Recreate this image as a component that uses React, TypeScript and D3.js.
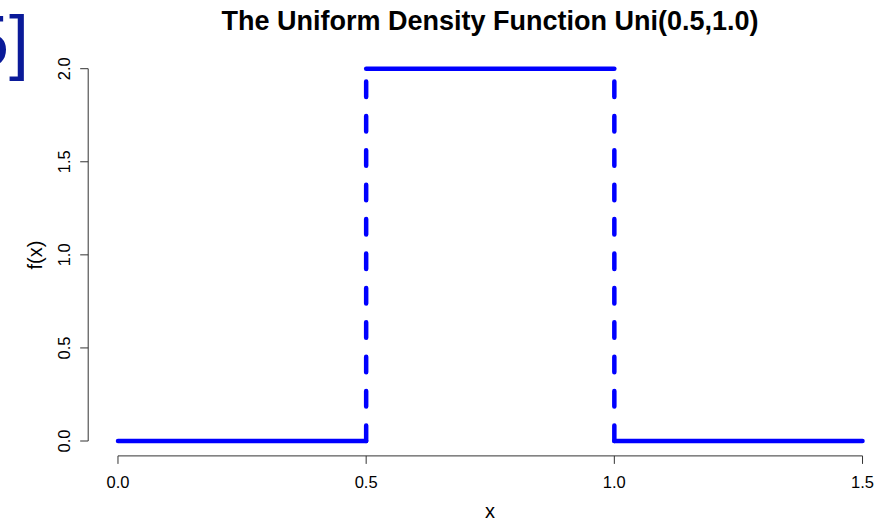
import React, { useEffect, useRef } from "react";
import * as d3 from "d3";

// density pieces of Uni(0.5, 1.0)
const pieceStart = [0, 0.5, 1.0];
const pieceEnd = [0.5, 1.0, 1.5];
const pieceDensity = [0, 2, 0];

// jumps between the pieces (drawn dashed)
const jumpX = [0.5, 1.0];
const jumpLow = [0, 0];
const jumpHigh = [2, 2];

const xTicks = [0, 0.5, 1.0, 1.5];
const yTicks = [0, 0.5, 1.0, 1.5, 2.0];

const W = 884;
const H = 521;

const App = () => {
  const ref = useRef<SVGSVGElement>(null);

  useEffect(() => {
    document.body.style.margin = "0";
    const svg = d3.select(ref.current);
    svg.selectAll("*").remove();

    const font = "'Liberation Sans', Arial, Helvetica, sans-serif";

    // R style: data range stretched by 4% each side
    const x = d3.scaleLinear().domain([-0.06, 1.56]).range([88.2, 892.3]);
    const y = d3.scaleLinear().domain([-0.08, 2.08]).range([455.9, 53.8]);

    // leftover of the slide this was cut from
    svg
      .append("text")
      .attr("x", 29)
      .attr("y", 66)
      .attr("text-anchor", "end")
      .attr("font-family", font)
      .attr("font-size", 72)
      .attr("fill", "#0a1a99")
      .text("5]");

    const g = svg.append("g").attr("font-family", font);

    // x axis
    const xa = g.append("g").attr("stroke", "#333").attr("stroke-width", 1);
    xa.append("line")
      .attr("x1", x(xTicks[0]))
      .attr("x2", x(xTicks[xTicks.length - 1]))
      .attr("y1", y(-0.08))
      .attr("y2", y(-0.08));
    xa.selectAll("line.tick")
      .data(xTicks)
      .enter()
      .append("line")
      .attr("class", "tick")
      .attr("x1", (d) => x(d))
      .attr("x2", (d) => x(d))
      .attr("y1", y(-0.08))
      .attr("y2", y(-0.08) + 8);
    g.selectAll("text.xt")
      .data(xTicks)
      .enter()
      .append("text")
      .attr("class", "xt")
      .attr("x", (d) => x(d))
      .attr("y", 488)
      .attr("text-anchor", "middle")
      .attr("font-size", 16.5)
      .text((d) => d3.format(".1f")(d));

    // y axis
    const ya = g.append("g").attr("stroke", "#333").attr("stroke-width", 1);
    ya.append("line")
      .attr("x1", x(-0.06))
      .attr("x2", x(-0.06))
      .attr("y1", y(yTicks[0]))
      .attr("y2", y(yTicks[yTicks.length - 1]));
    ya.selectAll("line.tick")
      .data(yTicks)
      .enter()
      .append("line")
      .attr("class", "tick")
      .attr("x1", x(-0.06))
      .attr("x2", x(-0.06) - 8)
      .attr("y1", (d) => y(d))
      .attr("y2", (d) => y(d));
    g.selectAll("text.yt")
      .data(yTicks)
      .enter()
      .append("text")
      .attr("class", "yt")
      .attr("transform", (d) => `translate(70,${y(d)}) rotate(-90)`)
      .attr("text-anchor", "middle")
      .attr("font-size", 16.5)
      .text((d) => d3.format(".1f")(d));

    // axis titles and main title
    g.append("text")
      .attr("x", 490)
      .attr("y", 518)
      .attr("text-anchor", "middle")
      .attr("font-size", 20)
      .text("x");
    g.append("text")
      .attr("transform", "translate(42,255) rotate(-90)")
      .attr("text-anchor", "middle")
      .attr("font-size", 20)
      .text("f(x)");
    g.append("text")
      .attr("x", 490)
      .attr("y", 30)
      .attr("text-anchor", "middle")
      .attr("font-size", 27)
      .attr("font-weight", "bold")
      .text("The Uniform Density Function Uni(0.5,1.0)");

    // solid pieces
    g.selectAll("line.piece")
      .data(pieceStart)
      .enter()
      .append("line")
      .attr("class", "piece")
      .attr("x1", (d) => x(d))
      .attr("x2", (d, i) => x(pieceEnd[i]))
      .attr("y1", (d, i) => y(pieceDensity[i]))
      .attr("y2", (d, i) => y(pieceDensity[i]))
      .attr("stroke", "#0000ff")
      .attr("stroke-width", 4.5)
      .attr("stroke-linecap", "round");

    // dashed jumps, drawn bottom to top
    g.selectAll("line.jump")
      .data(jumpX)
      .enter()
      .append("line")
      .attr("class", "jump")
      .attr("x1", (d) => x(d))
      .attr("x2", (d) => x(d))
      .attr("y1", (d, i) => y(jumpLow[i]))
      .attr("y2", (d, i) => y(jumpHigh[i]))
      .attr("stroke", "#0000ff")
      .attr("stroke-width", 4.5)
      .attr("stroke-linecap", "round")
      .attr("stroke-dasharray", "15.5 18.9");
  }, []);

  return <svg ref={ref} width={W} height={H} style={{ display: "block" }} />;
};

export default App;
